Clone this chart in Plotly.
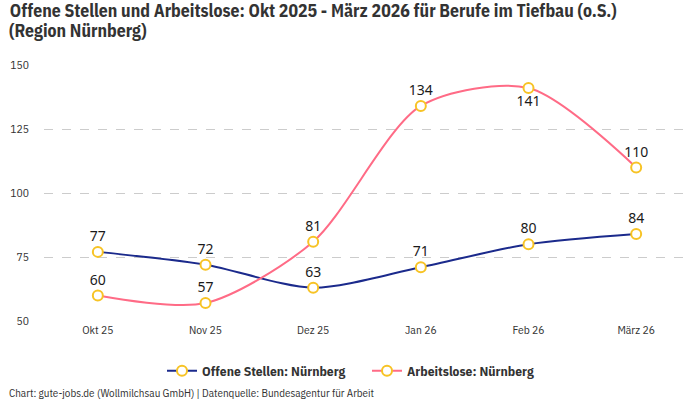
import plotly.graph_objects as go

# months shown on the x axis
months = ["Okt 25", "Nov 25", "Dez 25", "Jan 26", "Feb 26", "März 26"]

# series values
offene_stellen = [77, 72, 63, 71, 80, 84]
arbeitslose = [60, 57, 81, 134, 141, 110]

# label placement per point
pos_offene = ["top center"] * 6
pos_arbeitslose = ["top center", "top center", "top center", "top center", "bottom center", "top center"]

title_line1 = "Offene Stellen und Arbeitslose: Okt 2025 - März 2026 für Berufe im Tiefbau (o.S.)"
title_line2 = "(Region Nürnberg)"
source = "Chart: gute-jobs.de (Wollmilchsau GmbH) | Datenquelle: Bundesagentur für Arbeit"

blue = "#1b2a8c"
pink = "#ff6b86"
yellow = "#f7c325"
base_font = "IBM Plex Sans Condensed, Roboto Condensed, sans-serif"
label_font = dict(family="Noto Sans, DejaVu Sans", size=14, color="#1a1a1a")

fig = go.Figure()

fig.add_trace(go.Scatter(
    x=months, y=offene_stellen, name="<b>Offene Stellen: Nürnberg</b>",
    mode="lines+markers+text", text=offene_stellen, textposition=pos_offene,
    textfont=label_font,
    line=dict(color=blue, width=2, shape="spline", smoothing=0.8),
    marker=dict(symbol="circle", size=10, color="white", line=dict(color=yellow, width=2)),
))

fig.add_trace(go.Scatter(
    x=months, y=arbeitslose, name="<b>Arbeitslose: Nürnberg</b>",
    mode="lines+markers+text", text=arbeitslose, textposition=pos_arbeitslose,
    textfont=label_font,
    line=dict(color=pink, width=2, shape="spline", smoothing=0.8),
    marker=dict(symbol="circle", size=10, color="white", line=dict(color=yellow, width=2)),
))

fig.update_layout(
    width=700, height=400,
    paper_bgcolor="white", plot_bgcolor="white",
    margin=dict(l=44, r=10, t=65, b=79, autoexpand=False),
    font=dict(family=base_font, size=11, color="#333"),
    # title in two pieces so the line spacing stays tight
    title=dict(
        text="<b>" + title_line1 + "</b>",
        x=0.014, xanchor="left", yref="container", y=0.972, yanchor="middle",
        font=dict(size=17.7, color="#333"),
    ),
    showlegend=True,
    legend=dict(orientation="h", x=0.5, xanchor="center", yref="container", y=0.0725, yanchor="middle",
                font=dict(size=13.5, color="#333"), itemwidth=30,
                entrywidth=160, entrywidthmode="pixels"),
    xaxis=dict(showgrid=False, zeroline=False, showline=False, ticks="",
               range=[-0.5, 5.5], tickfont=dict(size=11.5, color="#333")),
    yaxis=dict(range=[50, 150], tickvals=[50, 75, 100, 125, 150],
               showgrid=True, gridcolor="#cccccc", griddash="dash", gridwidth=1,
               zeroline=False, showline=False, ticks="", ticklabelstandoff=14,
               tickfont=dict(size=11.5, color="#333")),
    annotations=[
        dict(text="<b>" + title_line2 + "</b>",
             xref="paper", yref="paper", x=-0.0573, y=1.1367, xanchor="left", yanchor="middle",
             showarrow=False, font=dict(size=17.7, color="#333")),
        dict(text=source,
             xref="paper", yref="paper", x=-0.0573, y=-0.281, xanchor="left", yanchor="middle",
             showarrow=False, font=dict(size=11, color="#333")),
    ],
)

# the page body has a default 8px margin; drop it so the chart sits at the window's corner
fig.write_html("out.html", config={"displayModeBar": False},
               post_script="document.body.style.margin = '0';")
